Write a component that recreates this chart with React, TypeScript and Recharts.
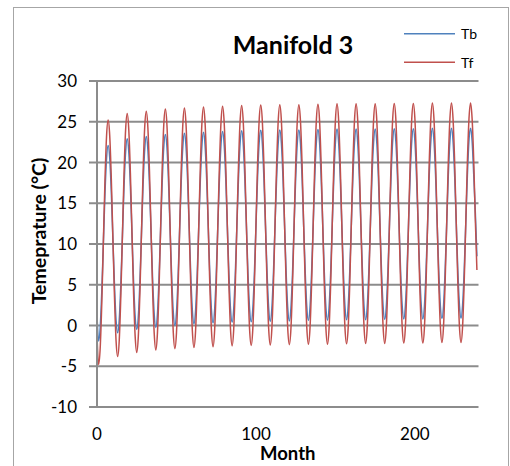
import React from 'react';
import { LineChart, Line, XAxis, YAxis, CartesianGrid, Legend, Label } from 'recharts';

const seriesNames = ['Tb', 'Tf'];
const xTicks = [0, 100, 200];
const yTicks = [-10, -5, 0, 5, 10, 15, 20, 25, 30];

// Tb, monthly values (one row of 12 per year), month 0 .. 239
const tb = [
  1.3, -1.9, -0.3, 4.1, 10.1, 16.1, 20.5, 22.1, 20.6, 16.4, 10.6, 4.9,
  0.6, -0.9, 0.7, 5.1, 11.0, 17.0, 21.3, 22.9, 21.3, 17.1, 11.2, 5.4,
  1.1, -0.5, 1.1, 5.4, 11.4, 17.3, 21.6, 23.2, 21.6, 17.3, 11.5, 5.6,
  1.3, -0.25, 1.3, 5.7, 11.6, 17.5, 21.9, 23.45, 21.9, 17.6, 11.7, 5.9,
  1.6, 0.0, 1.6, 5.9, 11.8, 17.7, 22.0, 23.6, 22.0, 17.8, 11.9, 6.1,
  1.8, 0.2, 1.8, 6.1, 12.0, 17.8, 22.1, 23.7, 22.1, 17.9, 12.0, 6.2,
  1.9, 0.3, 1.9, 6.2, 12.1, 17.9, 22.2, 23.8, 22.2, 18.0, 12.1, 6.3,
  2.0, 0.4, 2.0, 6.3, 12.2, 18.0, 22.3, 23.9, 22.3, 18.0, 12.2, 6.3,
  2.0, 0.45, 2.0, 6.3, 12.2, 18.1, 22.4, 23.95, 22.4, 18.1, 12.2, 6.4,
  2.1, 0.5, 2.1, 6.4, 12.3, 18.1, 22.4, 24.0, 22.4, 18.1, 12.3, 6.4,
  2.1, 0.55, 2.1, 6.4, 12.3, 18.1, 22.4, 24.0, 22.4, 18.2, 12.3, 6.5,
  2.2, 0.6, 2.2, 6.5, 12.3, 18.2, 22.5, 24.05, 22.5, 18.2, 12.4, 6.5,
  2.2, 0.65, 2.2, 6.5, 12.4, 18.2, 22.5, 24.1, 22.5, 18.3, 12.4, 6.6,
  2.3, 0.7, 2.3, 6.6, 12.4, 18.3, 22.5, 24.1, 22.5, 18.3, 12.4, 6.6,
  2.3, 0.7, 2.3, 6.6, 12.4, 18.3, 22.5, 24.1, 22.5, 18.3, 12.4, 6.6,
  2.3, 0.75, 2.3, 6.6, 12.5, 18.3, 22.6, 24.15, 22.6, 18.3, 12.5, 6.6,
  2.4, 0.8, 2.4, 6.6, 12.5, 18.3, 22.6, 24.15, 22.6, 18.3, 12.5, 6.6,
  2.4, 0.8, 2.4, 6.7, 12.5, 18.4, 22.6, 24.2, 22.6, 18.4, 12.5, 6.7,
  2.4, 0.85, 2.4, 6.7, 12.5, 18.4, 22.6, 24.2, 22.6, 18.4, 12.6, 6.7,
  2.5, 0.9, 2.5, 6.7, 12.6, 18.4, 22.7, 24.2, 22.6, 18.5, 13.9, 8.5,
];

// Tf, monthly values (one row of 12 per year), month 0 .. 239
const tf = [
  -1.1, -4.8, -2.8, 2.7, 10.2, 17.7, 23.2, 25.2, 23.3, 18.0, 10.7, 3.5,
  -1.9, -3.8, -1.8, 3.7, 11.1, 18.6, 24.0, 26.0, 24.0, 18.7, 11.4, 4.0,
  -1.3, -3.3, -1.3, 4.1, 11.5, 18.9, 24.3, 26.3, 24.3, 19.0, 11.7, 4.3,
  -1.0, -3.0, -1.0, 4.4, 11.8, 19.2, 24.6, 26.55, 24.6, 19.2, 11.9, 4.5,
  -0.9, -2.85, -0.9, 4.5, 11.9, 19.3, 24.7, 26.7, 24.7, 19.4, 12.0, 4.7,
  -0.7, -2.7, -0.7, 4.7, 12.1, 19.4, 24.8, 26.8, 24.8, 19.5, 12.1, 4.8,
  -0.6, -2.6, -0.6, 4.8, 12.2, 19.5, 24.9, 26.9, 24.9, 19.6, 12.2, 4.9,
  -0.5, -2.5, -0.5, 4.9, 12.3, 19.6, 25.0, 27.0, 25.0, 19.6, 12.3, 4.9,
  -0.5, -2.45, -0.5, 4.9, 12.3, 19.7, 25.1, 27.05, 25.1, 19.7, 12.3, 5.0,
  -0.4, -2.4, -0.4, 5.0, 12.4, 19.7, 25.1, 27.1, 25.1, 19.7, 12.4, 5.0,
  -0.4, -2.35, -0.4, 5.0, 12.4, 19.7, 25.1, 27.1, 25.1, 19.8, 12.4, 5.1,
  -0.3, -2.3, -0.3, 5.1, 12.4, 19.8, 25.2, 27.15, 25.2, 19.8, 12.4, 5.1,
  -0.3, -2.3, -0.3, 5.1, 12.5, 19.8, 25.2, 27.2, 25.2, 19.8, 12.5, 5.1,
  -0.3, -2.25, -0.3, 5.1, 12.5, 19.8, 25.2, 27.2, 25.2, 19.9, 12.5, 5.2,
  -0.2, -2.2, -0.2, 5.2, 12.5, 19.9, 25.2, 27.2, 25.2, 19.9, 12.5, 5.2,
  -0.2, -2.2, -0.2, 5.2, 12.5, 19.9, 25.3, 27.25, 25.3, 19.9, 12.6, 5.2,
  -0.2, -2.15, -0.2, 5.2, 12.6, 19.9, 25.3, 27.25, 25.3, 19.9, 12.6, 5.2,
  -0.2, -2.15, -0.2, 5.2, 12.6, 19.9, 25.3, 27.3, 25.3, 20.0, 12.6, 5.3,
  -0.1, -2.1, -0.1, 5.3, 12.6, 20.0, 25.3, 27.3, 25.3, 20.0, 12.6, 5.3,
  -0.1, -2.1, -0.1, 5.3, 12.6, 20.0, 25.3, 27.3, 25.3, 20.2, 13.0, 6.8,
];

const COLORS: Record<string, string> = { Tb: '#4F81BD', Tf: '#C0504D' };
const FONT = 'Lato, "Open Sans", sans-serif';

const renderLegend = (props: any) => {
  const payload = props.payload || [];
  return (
    <svg width={100} height={54} style={{ display: 'block' }}>
      {payload.map((e: any, i: number) => (
        <g key={e.value}>
          <line x1={2} x2={53} y1={11.7 + i * 28.6} y2={11.7 + i * 28.6} stroke={e.color} strokeWidth={1.5} />
          <text x={59} y={17 + i * 28.6} fontSize={14} fontFamily={FONT} fill="#000">{e.value}</text>
        </g>
      ))}
    </svg>
  );
};

const renderYLabel = (props: any) => {
  const vb = props.viewBox || { x: 23, y: 73, width: 60, height: 326 };
  const cx = vb.x + 1.5;
  const cy = vb.y + vb.height / 2 - 13;
  return (
    <text
      x={cx}
      y={cy}
      transform={`rotate(-90 ${cx} ${cy})`}
      textAnchor="middle"
      dominantBaseline="central"
      fontSize={19.5}
      fontWeight={700}
      fontFamily={FONT}
      fill="#000"
    >
      Temeprature (°C)
    </text>
  );
};

export default function App() {
  const data = tb.map((v, i) => ({ month: i, Tb: v, Tf: tf[i] }));
  return (
    <div
      style={{
        position: 'absolute',
        left: 13,
        top: 7,
        width: 496,
        height: 470,
        border: '1px solid #a6a6a6',
        boxSizing: 'border-box',
        background: '#fff',
        fontFamily: FONT,
      }}
    >
      <div
        style={{
          position: 'absolute',
          left: 179,
          top: 24,
          width: 200,
          textAlign: 'center',
          fontSize: 25,
          fontWeight: 700,
          lineHeight: '24px',
          color: '#000',
          zIndex: 2,
        }}
      >
        Manifold 3
      </div>
      <LineChart width={494} height={458} data={data} margin={{ top: 73, right: 29.5, left: 23, bottom: 0 }}>
        <CartesianGrid horizontal vertical={false} stroke="#8c8c8c" strokeWidth={2} />
        <XAxis
          dataKey="month"
          type="number"
          domain={[0, 240]}
          ticks={xTicks}
          interval={0}
          axisLine={false}
          tickLine={false}
          tickSize={0}
          tickMargin={21}
          height={59}
          tick={{ fill: '#000', fontSize: 17, fontFamily: FONT }}
        >
          <Label value="Month" position="insideBottom" offset={6} style={{ fontSize: 18.5, fontWeight: 700, fill: '#000', fontFamily: FONT }} />
        </XAxis>
        <YAxis
          type="number"
          domain={[-10, 30]}
          ticks={yTicks}
          interval={0}
          width={60}
          axisLine={{ stroke: '#8c8c8c', strokeWidth: 2 }}
          tickLine={{ stroke: '#8c8c8c', strokeWidth: 2 }}
          tickSize={8}
          tickMargin={12}
          tick={{ fill: '#000', fontSize: 17, fontFamily: FONT }}
        >
          <Label content={renderYLabel} />
        </YAxis>
        <Legend
          layout="vertical"
          align="center"
          verticalAlign="middle"
          wrapperStyle={{ left: 388, top: 14, width: 100, height: 54 }}
          content={renderLegend}
        />
        {seriesNames.map((name) => (
          <Line
            key={name}
            type="monotone"
            dataKey={name}
            name={name}
            stroke={COLORS[name]}
            strokeWidth={1.5}
            dot={false}
            activeDot={false}
            isAnimationActive={false}
          />
        ))}
      </LineChart>
    </div>
  );
}
